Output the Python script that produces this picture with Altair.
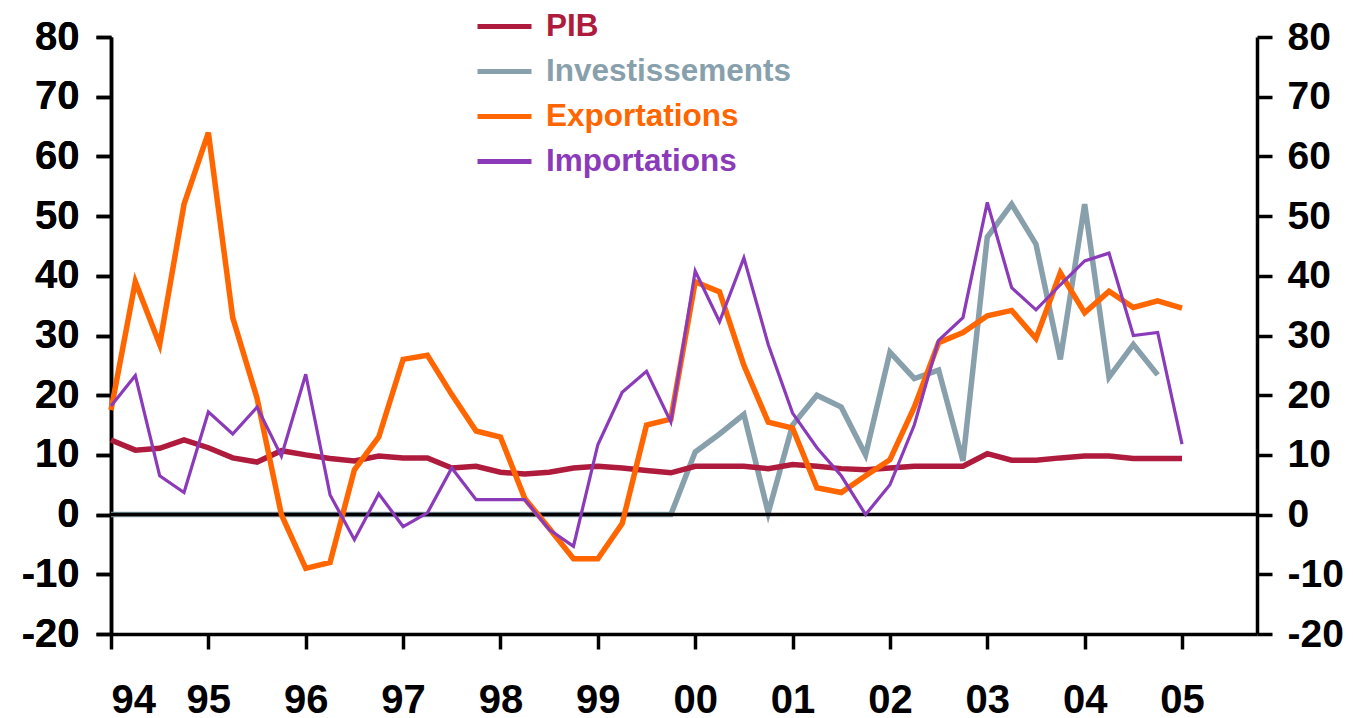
import altair as alt
import pandas as pd

series_names = ["PIB", "Investissements", "Exportations", "Importations"]
series_colors = ["#AF1B3C", "#87A0AC", "#FF6600", "#8B3BB9"]

years = list(range(1994, 2006))

pib = [12.5, 10.8, 11.1, 12.5, 11.2, 9.5, 8.8, 10.7, 10.0, 9.4, 9.0, 9.8, 9.5, 9.5, 7.8,
       8.1, 7.1, 6.8, 7.1, 7.8, 8.1, 7.8, 7.4, 7.0, 8.1, 8.1, 8.1, 7.7, 8.4, 8.1,
       7.7, 7.5, 7.8, 8.1, 8.1, 8.1, 10.2, 9.1, 9.1, 9.5, 9.8, 9.8, 9.4, 9.4, 9.4]
investissements = [0] * 24 + [10.5, 13.5, 16.8, 0.3, 15, 20, 18, 10, 27.2, 22.8, 24.2, 9,
                              46.5, 52, 45.3, 26, 52, 23, 28.5, 23.4, None]
exportations = [17.5, 39, 28.5, 52, 64, 33, 19.5, 0, -9, -8, 7.5, 13, 26, 26.7, 20.1,
                14, 13, 2.7, -2.3, -7.4, -7.4, -1.5, 15, 16, 39, 37.3, 25, 15.5, 14.5, 4.5,
                3.7, 6.5, 9.2, 18, 28.8, 30.5, 33.3, 34.2, 29.5, 40.5, 33.8, 37.4, 34.7, 35.8, 34.6]
importations = [18.2, 23.3, 6.5, 3.7, 17.2, 13.5, 18, 9.8, 23.5, 3.3, -4.2, 3.5, -2, 0.3, 7.8,
                2.5, 2.5, 2.5, -2.5, -5.3, 11.7, 20.5, 24, 15.5, 40.8, 32.3, 43, 28.5, 17, 11.2,
                6.5, 0, 5, 15, 29.2, 33, 52.3, 38, 34.3, 38.5, 42.5, 43.8, 30, 30.5, 11.8]

n = len(pib)
t = [1994 + i / 4 for i in range(n)]

rows = []
for name, vals in [("Investissements", investissements), ("PIB", pib),
                   ("Exportations", exportations), ("Importations", importations)]:
    for ti, v in zip(t, vals):
        if v is not None:
            rows.append({"t": ti, "v": v, "serie": name})
df = pd.DataFrame(rows)

FONT = "Liberation Sans"
xscale = alt.Scale(domain=[1994, 2005.77], nice=False, zero=False)
yscale = alt.Scale(domain=[-20, 80], nice=False)

xaxis = alt.Axis(values=years, labelExpr="substring(toString(datum.value), 2)",
                 grid=False, tickSize=15, tickWidth=3.5, tickColor="black",
                 domainColor="black", domainWidth=3.5, labelFont=FONT,
                 labelFontSize=40, labelFontWeight="bold", labelColor="black",
                 labelPadding=31, title=None)

def yaxis(orient, size, pad):
    return alt.Axis(orient=orient, values=list(range(-20, 90, 10)), grid=False,
                    labelExpr="(datum.value < 0 ? '-' : '') + abs(datum.value)",
                    tickSize=15, tickWidth=3.5, tickColor="black", domainColor="black",
                    domainWidth=3.5, labelFont=FONT, labelFontSize=size,
                    labelFontWeight="bold", labelColor="black", labelPadding=pad,
                    title=None)

legend = alt.Legend(orient="none", legendX=364, legendY=-40, title=None,
                    symbolType="stroke", symbolSize=2916, rowPadding=-9,
                    symbolStrokeWidth=5,
                    labelFont=FONT, labelFontSize=31.5, labelFontWeight="bold",
                    labelOffset=12, labelLimit=0,
                    labelColor={"expr": "scale('color', datum.value)"})

lines = alt.Chart(df).mark_line(strokeJoin="miter", strokeCap="butt").encode(
    x=alt.X("t:Q", scale=xscale, axis=xaxis),
    y=alt.Y("v:Q", scale=yscale, axis=yaxis("left", 40, 17)),
    color=alt.Color("serie:N", scale=alt.Scale(domain=series_names, range=series_colors),
                    legend=legend),
    strokeWidth=alt.condition(alt.datum.serie == "Importations", alt.value(3.2), alt.value(5.5)),
    detail="serie:N",
)
inv_lines = lines.transform_filter(alt.datum.serie == "Investissements")
other_lines = lines.transform_filter(alt.datum.serie != "Investissements")

right = alt.Chart(df).mark_line(opacity=0).encode(
    x=alt.X("t:Q", scale=xscale, axis=xaxis),
    y=alt.Y("v:Q", scale=yscale, axis=yaxis("right", 39, 15)),
    detail="serie:N",
)

zero = alt.Chart(pd.DataFrame({"z": [0]})).mark_rule(color="black", strokeWidth=3.5).encode(
    y=alt.Y("z:Q", scale=yscale, axis=None),
)

chart = alt.layer(right, inv_lines, zero, other_lines).resolve_axis(y="independent").properties(
    width=1146, height=597,
    autosize=alt.AutoSizeParams(type="none"),
    padding={"left": 103, "top": 29, "right": 88, "bottom": 82},
).configure_view(stroke=None)

chart.save("out.html", embed_options={"renderer": "svg", "actions": False})
